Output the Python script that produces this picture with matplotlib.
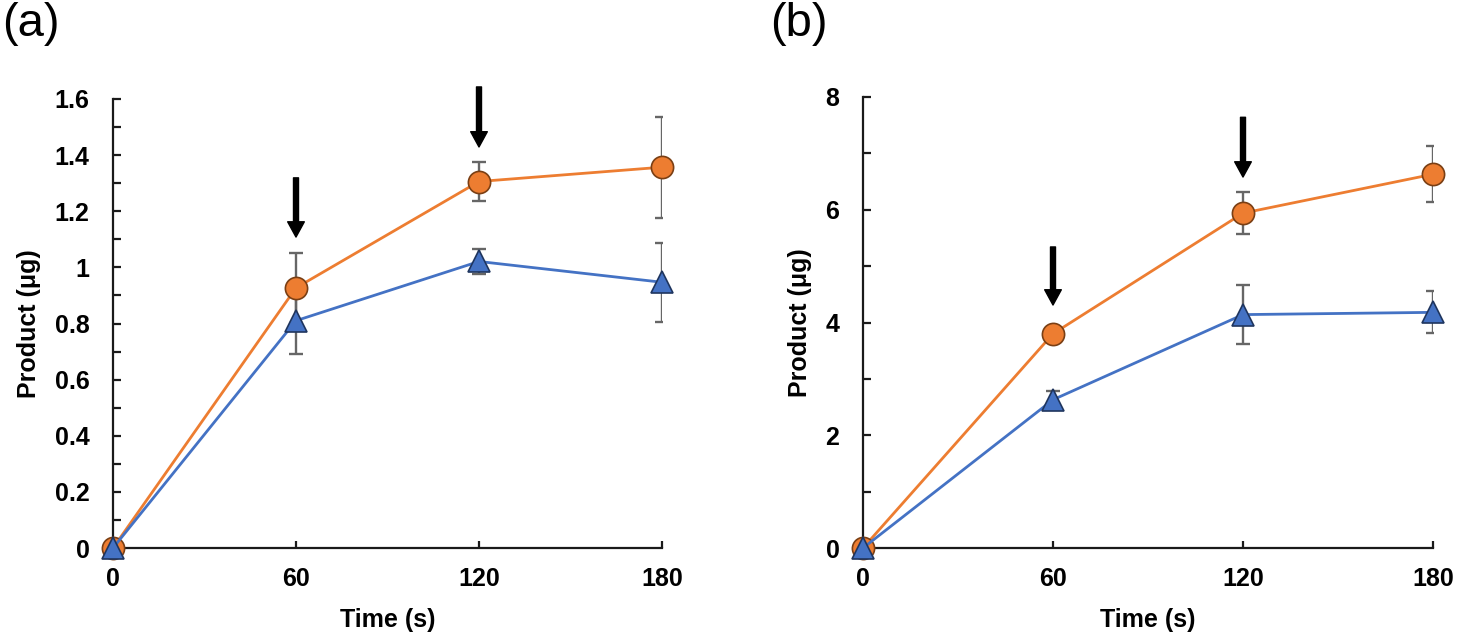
import matplotlib
matplotlib.use("Agg")
import matplotlib.pyplot as plt
from matplotlib.ticker import MultipleLocator

plt.rcParams['font.family'] = ['Liberation Sans', 'DejaVu Sans']

time_s = [0, 60, 120, 180]

# Panel (a)
a_orange = [0.0, 0.927, 1.306, 1.357]
a_orange_err = [0.0, 0.125, 0.07, 0.18]
a_blue = [0.0, 0.81, 1.021, 0.947]
a_blue_err = [0.0, 0.12, 0.045, 0.14]
a_arrows = [(60, 1.319, 1.108), (120, 1.643, 1.429)]

# Panel (b)
b_orange = [0.0, 3.80, 5.94, 6.63]
b_orange_err = [0.0, 0.12, 0.37, 0.50]
b_blue = [0.0, 2.63, 4.14, 4.18]
b_blue_err = [0.0, 0.15, 0.52, 0.37]
b_arrows = [(60, 5.34, 4.31), (120, 7.64, 6.58)]

xticks = [0, 60, 120, 180]
a_yticks = [0, 0.2, 0.4, 0.6, 0.8, 1, 1.2, 1.4, 1.6]
a_yticklabels = ['0', '0.2', '0.4', '0.6', '0.8', '1', '1.2', '1.4', '1.6']
b_yticks = [0, 2, 4, 6, 8]
b_yticklabels = ['0', '2', '4', '6', '8']

ORANGE = '#ED7D31'
ORANGE_EDGE = '#7a3f14'
BLUE = '#4472C4'
BLUE_EDGE = '#1f355e'
ERR = '#666666'

W, H = 1458, 639
fig = plt.figure(figsize=(W / 100, H / 100), dpi=100)

def px_axes(l, r, t, b):
    return fig.add_axes([l / W, 1 - b / H, (r - l) / W, (b - t) / H])

ax_a = px_axes(113, 662, 99, 548)
ax_b = px_axes(863, 1433, 97, 548)

def draw(ax, orange, oerr, blue, berr, ymax, minor, yticks, ylabels, arrows):
    ax.errorbar(time_s, orange, yerr=oerr, fmt='none', ecolor=ERR, elinewidth=1.7,
                capsize=4.8, capthick=1.7, zorder=2)
    ax.errorbar(time_s, blue, yerr=berr, fmt='none', ecolor=ERR, elinewidth=1.7,
                capsize=4.8, capthick=1.7, zorder=2)
    ax.plot(time_s, orange, '-', color=ORANGE, lw=2, marker='o', markersize=16,
            markerfacecolor=ORANGE, markeredgecolor=ORANGE_EDGE, markeredgewidth=1.2,
            clip_on=False, zorder=3)
    ax.plot(time_s, blue, '-', color=BLUE, lw=2, marker='^', markersize=16,
            markerfacecolor=BLUE, markeredgecolor=BLUE_EDGE, markeredgewidth=1.2,
            clip_on=False, zorder=4)
    for x, tail, tip in arrows:
        ann = ax.annotate('', xy=(x, tip), xytext=(x, tail),
                          arrowprops=dict(width=3.6, headwidth=12, headlength=11,
                                          color='black', shrink=0.0),
                          annotation_clip=False)
        ann.arrow_patch.set_clip_on(False)
    ax.set_xlim(0, 180)
    ax.set_ylim(0, ymax)
    ax.set_xticks(xticks)
    ax.set_xticklabels([str(t) for t in xticks])
    ax.set_yticks(yticks)
    ax.set_yticklabels(ylabels)
    ax.yaxis.set_minor_locator(MultipleLocator(minor))
    for s in ['top', 'right']:
        ax.spines[s].set_visible(False)
    for s in ['left', 'bottom']:
        ax.spines[s].set_linewidth(1.6)
        ax.spines[s].set_color('#1a1a1a')
    ax.tick_params(axis='both', which='both', direction='in', width=1.6, color='#1a1a1a')
    ax.tick_params(axis='y', which='both', length=6, pad=17)
    ax.tick_params(axis='x', which='major', length=5, pad=14)
    for lab in ax.get_xticklabels() + ax.get_yticklabels():
        lab.set_fontsize(18)
        lab.set_fontweight('bold')
    ax.set_xlabel('Time (s)', fontsize=18, fontweight='bold', labelpad=12)
    ax.set_ylabel('Product (μg)', fontsize=18, fontweight='bold', labelpad=10)

draw(ax_a, a_orange, a_orange_err, a_blue, a_blue_err, 1.6, 0.1,
     a_yticks, a_yticklabels, a_arrows)
draw(ax_b, b_orange, b_orange_err, b_blue, b_blue_err, 8, 1,
     b_yticks, b_yticklabels, b_arrows)

fig.text(2 / W, 1 - 2 / H, '(a)', fontsize=34, ha='left', va='top')
fig.text(770 / W, 1 - 2 / H, '(b)', fontsize=34, ha='left', va='top')

fig.savefig('out.png', dpi=100)
